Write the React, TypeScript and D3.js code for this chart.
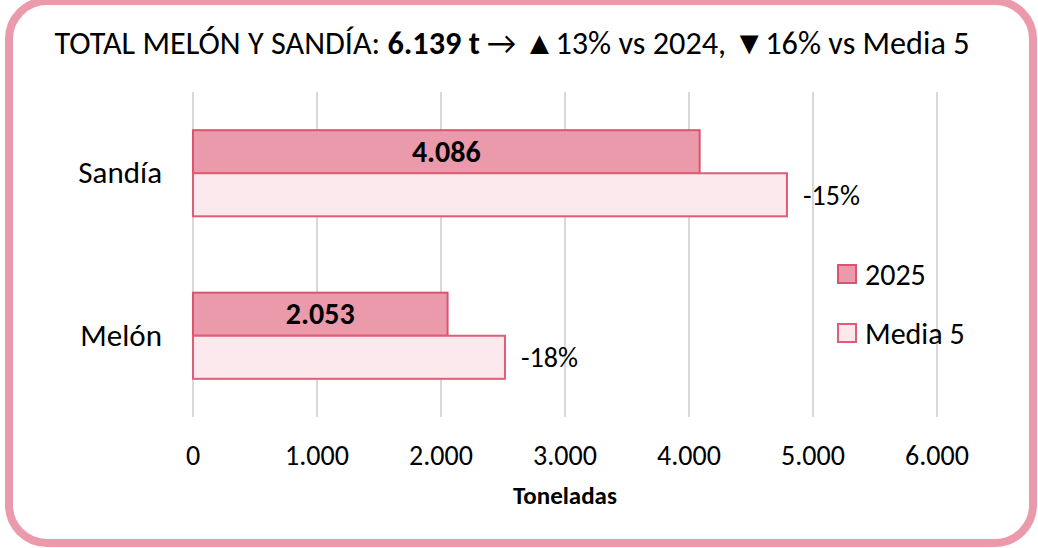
import React, { useEffect, useRef } from "react";
import * as d3 from "d3";

const categories = ["Sandía", "Melón"];
const values2025 = [4086, 2053];
const valuesMedia5 = [4790, 2516];
const pctLabels = ["-15%", "-18%"];
const xTicks = [0, 1000, 2000, 3000, 4000, 5000, 6000];
const seriesNames = ["2025", "Media 5"];
const titleParts = [
  { text: "TOTAL MELÓN Y SANDÍA: ", bold: false },
  { text: "6.139 t", bold: true },
  { text: " → ▲13% vs 2024, ▼16% vs Media 5", bold: false },
];
const axisTitle = "Toneladas";

const W = 1038;
const H = 548;
const FONT = "Carlito, Calibri, Lato, 'Noto Sans', sans-serif";
const PINK = "#ea9aab";
const PINK_STROKE = "#d9546d";
const LIGHT = "#fbe9ed";
const LIGHT_STROKE = "#df5e76";

export default function App() {
  const ref = useRef<SVGSVGElement>(null);

  useEffect(() => {
    const svg = d3.select(ref.current);
    svg.selectAll("*").remove();

    const x = d3.scaleLinear().domain([0, 6000]).range([193, 937]);
    const y = d3.scaleBand().domain(categories).range([92, 417]).padding(0);
    const barH = y.bandwidth() * 0.265;
    const loc = d3.formatLocale({ decimal: ",", thousands: ".", grouping: [3], currency: ["", ""] });
    const fmt = loc.format(",");

    // border
    svg
      .append("rect")
      .attr("x", 9)
      .attr("y", 1)
      .attr("width", 1024)
      .attr("height", 542)
      .attr("rx", 38)
      .attr("ry", 38)
      .attr("fill", "white")
      .attr("stroke", PINK)
      .attr("stroke-width", 8);

    // gridlines
    svg
      .append("g")
      .selectAll("line")
      .data(xTicks)
      .join("line")
      .attr("x1", (d) => x(d))
      .attr("x2", (d) => x(d))
      .attr("y1", 92)
      .attr("y2", 417)
      .attr("stroke", "#d9d9d9")
      .attr("stroke-width", 2);

    // tick labels
    svg
      .append("g")
      .selectAll("text")
      .data(xTicks)
      .join("text")
      .attr("x", (d) => x(d))
      .attr("y", 465)
      .attr("text-anchor", "middle")
      .attr("font-family", FONT)
      .attr("font-size", 28)
      .attr("fill", "#000")
      .text((d) => fmt(d));

    // axis title
    svg
      .append("text")
      .attr("x", 565)
      .attr("y", 504)
      .attr("text-anchor", "middle")
      .attr("font-family", FONT)
      .attr("font-weight", "bold")
      .attr("font-size", 25)
      .text(axisTitle);

    // bars
    const g = svg.append("g");
    categories.forEach((c, i) => {
      const center = (y(c) as number) + y.bandwidth() / 2;
      g.append("rect")
        .attr("x", x(0))
        .attr("y", center - barH)
        .attr("width", x(values2025[i]) - x(0))
        .attr("height", barH)
        .attr("fill", PINK)
        .attr("stroke", PINK_STROKE)
        .attr("stroke-width", 2);
      g.append("rect")
        .attr("x", x(0))
        .attr("y", center)
        .attr("width", x(valuesMedia5[i]) - x(0))
        .attr("height", barH)
        .attr("fill", LIGHT)
        .attr("stroke", LIGHT_STROKE)
        .attr("stroke-width", 2);
      g.append("text")
        .attr("x", (x(0) + x(values2025[i])) / 2)
        .attr("y", center - barH / 2 + 10)
        .attr("text-anchor", "middle")
        .attr("font-family", FONT)
        .attr("font-weight", "bold")
        .attr("font-size", 30)
        .text(fmt(values2025[i]));
      g.append("text")
        .attr("x", x(valuesMedia5[i]) + 16)
        .attr("y", center + barH / 2 + 10)
        .attr("font-family", FONT)
        .attr("font-size", 28)
        .text(pctLabels[i]);
      g.append("text")
        .attr("x", 162)
        .attr("y", center + 10)
        .attr("text-anchor", "end")
        .attr("font-family", FONT)
        .attr("font-size", 31)
        .text(c);
    });

    // legend
    const legend = svg.append("g");
    const fills = [PINK, LIGHT];
    const strokes = [PINK_STROKE, LIGHT_STROKE];
    seriesNames.forEach((s, i) => {
      const ly = 265 + i * 59;
      legend
        .append("rect")
        .attr("x", 838)
        .attr("y", ly)
        .attr("width", 18)
        .attr("height", 18)
        .attr("fill", fills[i])
        .attr("stroke", strokes[i])
        .attr("stroke-width", 2);
      legend
        .append("text")
        .attr("x", 865)
        .attr("y", ly + 20)
        .attr("font-family", FONT)
        .attr("font-size", 30)
        .text(s);
    });

    // title
    const title = svg
      .append("text")
      .attr("x", 512)
      .attr("y", 54)
      .attr("text-anchor", "middle")
      .attr("font-family", FONT)
      .attr("font-size", 27);
    titleParts.forEach((p) => {
      title
        .append("tspan")
        .attr("font-weight", p.bold ? "bold" : "normal")
        .text(p.text);
    });
    const node = title.node() as SVGTextElement;
    const w = node.getComputedTextLength();
    if (w > 0) {
      title.attr("font-size", 27 * (915 / w));
    }
  }, []);

  return (
    <svg
      ref={ref}
      width={W}
      height={H}
      style={{ position: "absolute", left: 0, top: 0, background: "white" }}
    />
  );
}
